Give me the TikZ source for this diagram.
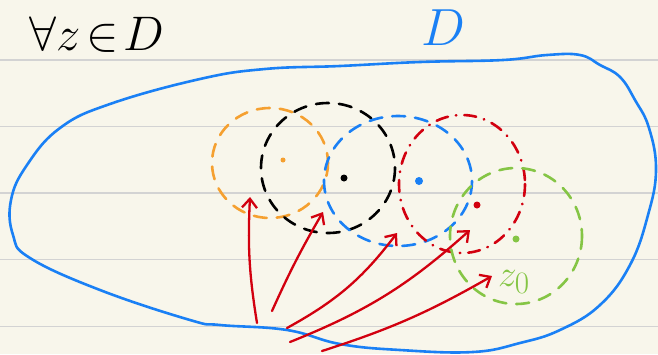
\documentclass[tikz,border=0pt]{standalone}
\usetikzlibrary{arrows.meta}
\definecolor{paper}{HTML}{F8F6EB}
\definecolor{rulegrey}{HTML}{D3D3D3}
\definecolor{dblue}{HTML}{1A80F5}
\definecolor{dorange}{HTML}{F5A030}
\definecolor{dred}{HTML}{D2000F}
\definecolor{dgreen}{HTML}{85C545}
\begin{document}
\begin{tikzpicture}[x=1pt,y=-1pt,
  rule/.style={rulegrey,line width=1.8pt},
  region/.style={dblue,line width=2.6pt,line join=round},
  disc/.style={line width=2.6pt,line cap=round,dash pattern=on 13pt off 10pt},
  reddisc/.style={line width=2.6pt,line cap=round,dash pattern=on 12pt off 8pt on 0.5pt off 8pt},
  ctr/.style={circle,fill,inner sep=0pt,minimum size=7pt},
  reach/.style={dred,line width=2.3pt,line cap=round,-{Straight Barb[length=9pt,width=15pt,line width=2.3pt]}},
  hand/.style={inner sep=0pt,font=\Huge}]
\fill[paper] (0,0) rectangle (658,354);
\useasboundingbox (0,0) rectangle (658,354);
\foreach \y in {60,126.5,193,259.5,326.5} \draw[rule] (0,\y) -- (658,\y);
% region D
\draw[region] plot[smooth cycle,tension=0.7] coordinates {
 (340,66) (420,62) (503,60) (547,55) (580,55) (600,65) (620,77) (635,100)
 (649,128) (656,170) (648,215) (630,265) (600,305) (560,330) (520,343)
 (473,352) (400,350) (340,344) (287,330) (220,325) (190,320) (100,290)
 (30,258) (13,235) (11,200) (27,165) (60,128) (110,104) (200,79) (265,69)};
% texts
\node[hand,scale=1.95] (fz) at (97,35) {$\forall z\!\in\! D$};
\node[hand,text=dblue,scale=2.1] (Dlab) at (443,28) {$D$};
% discs
\coordinate (co) at (270,163);
\coordinate (cb) at (328,168);
\coordinate (cu) at (398,181);
\coordinate (cr) at (462,184);
\coordinate (cg) at (516,236);
\draw[disc,dorange] (co) ellipse [x radius=58,y radius=55];
\draw[disc,black] (cb) ellipse [x radius=67,y radius=65];
\draw[disc,dblue] (cu) ellipse [x radius=74,y radius=65];
\draw[reddisc,dred] (cr) ellipse [x radius=63,y radius=69];
\draw[disc,dgreen] (cg) ellipse [x radius=66,y radius=68];
% centres
\node[ctr,fill=dorange,minimum size=5pt] (po) at (283,160) {};
\node[ctr,fill=black] (pb) at (344,178) {};
\node[ctr,fill=dblue,minimum size=8pt] (pu) at (419,181) {};
\node[ctr,fill=dred] (pr) at (477,205) {};
\node[ctr,fill=dgreen] (pg) at (516,239) {};
\node[hand,text=dgreen,scale=1.5] (z0) at (514,282) {$z_0$};
% arrows
\coordinate (t1) at (257,323); \coordinate (h1) at (250,197);
\coordinate (t2) at (272,311); \coordinate (h2) at (323,212);
\coordinate (t3) at (287,328); \coordinate (h3) at (397,233);
\coordinate (t4) at (290,342); \coordinate (h4) at (470,230);
\coordinate (t5) at (322,351); \coordinate (h5) at (492,276);
\draw[reach] (t1) to[bend left=6] (h1);
\draw[reach] (t2) to[bend left=3] (h2);
\draw[reach] (t3) to[bend right=12] (h3);
\draw[reach] (t4) to[bend right=10] (h4);
\draw[reach] (t5) to[bend right=6] (h5);
\end{tikzpicture}
\end{document}
